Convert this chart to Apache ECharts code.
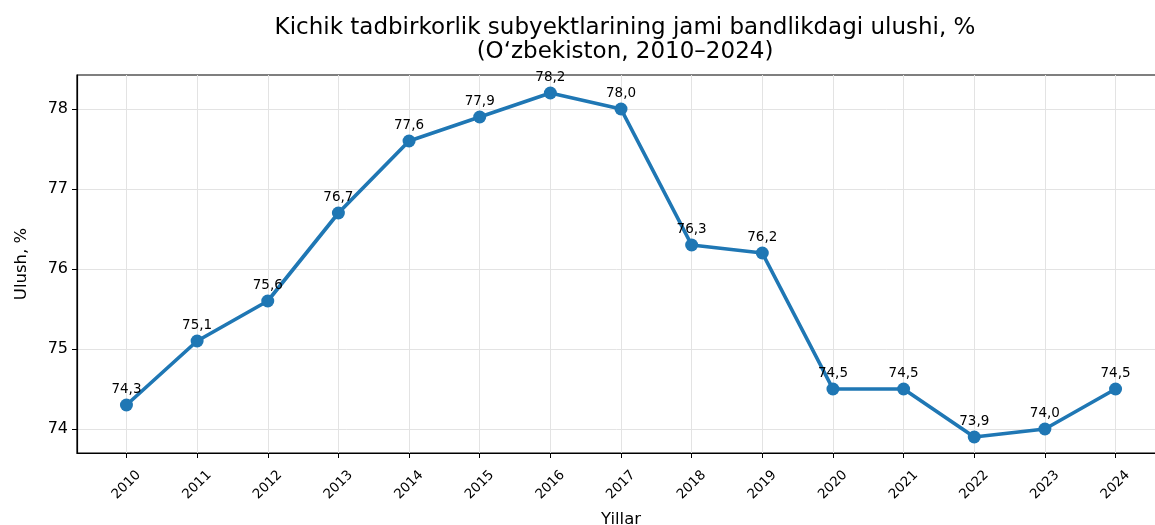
<!DOCTYPE html>
<html>
<head>
<meta charset="utf-8">
<script src="https://cdn.jsdelivr.net/npm/echarts@6/dist/echarts.min.js"></script>
<style>html,body{margin:0;padding:0;background:#fff}#c{width:1155px;height:525px}</style>
</head>
<body>
<div id="c"></div>
<script>
const years = [2010,2011,2012,2013,2014,2015,2016,2017,2018,2019,2020,2021,2022,2023,2024];
const shares = [74.3,75.1,75.6,76.7,77.6,77.9,78.2,78.0,76.3,76.2,74.5,74.5,73.9,74.0,74.5];
const yTicks = [74,75,76,77,78];
const titleText = "Kichik tadbirkorlik subyektlarining jami bandlikdagi ulushi, %\n(O‘zbekiston, 2010–2024)";
const xName = "Yillar";
const yName = "Ulush, %";

const font = "'DejaVu Sans', sans-serif";
const chart = echarts.init(document.getElementById('c'), null, {renderer:'canvas'});
chart.setOption({
  animation:false,
  backgroundColor:'#fff',
  title:{
    text:titleText,
    left:620, top:11, textAlign:'center',
    textStyle:{fontFamily:font,fontSize:23,fontWeight:'normal',color:'#000',lineHeight:24}
  },
  grid:{left:77,right:-10,top:75,bottom:72,containLabel:false,outerBoundsMode:'none',
    show:true,borderColor:'#000',borderWidth:1.2,backgroundColor:'transparent'},
  xAxis:{
    type:'value', min:2009.3, max:2024.7,
    name:xName, nameLocation:'middle', nameGap:58,
    nameTextStyle:{fontFamily:font,fontSize:16.5,color:'#000'},
    axisLine:{show:true,onZero:false,lineStyle:{color:'#000',width:1.2}},
    axisTick:{show:true,length:5,lineStyle:{color:'#000',width:1},customValues:years},
    axisLabel:{customValues:years,rotate:45,align:'center',verticalAlign:'middle',margin:32,
      fontFamily:font,fontSize:13.5,color:'#000',formatter:v=>String(v)},
    splitLine:{show:true,lineStyle:{color:'#e3e3e3',width:1}}
  },
  yAxis:{
    type:'value', min:73.7, max:78.425,
    name:yName, nameLocation:'middle', nameGap:47,
    nameTextStyle:{fontFamily:font,fontSize:16.5,color:'#000'},
    axisLine:{show:true,lineStyle:{color:'#000',width:1.2}},
    axisTick:{show:true,length:5,lineStyle:{color:'#000',width:1},customValues:yTicks},
    axisLabel:{customValues:yTicks,margin:9,fontFamily:font,fontSize:16,color:'#000'},
    splitLine:{show:true,lineStyle:{color:'#e3e3e3',width:1}}
  },
  series:[{
    type:'line',
    data:years.map((y,i)=>[y,shares[i]]),
    symbol:'circle', symbolSize:13,
    lineStyle:{color:'#1f77b4',width:3.7},
    itemStyle:{color:'#1f77b4'},
    label:{show:true,position:'top',distance:2,fontFamily:font,fontSize:13.5,color:'#000',
      formatter:p=>p.value[1].toFixed(1).replace('.',',')}
  }]
});
</script>
</body>
</html>
